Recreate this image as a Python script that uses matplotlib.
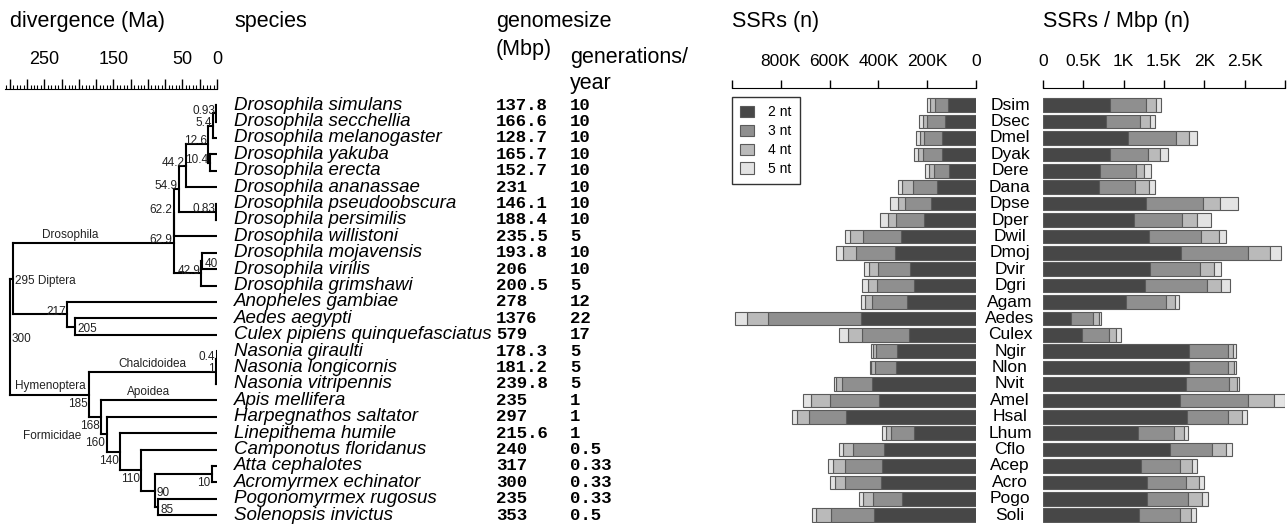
import numpy as np
import matplotlib.pyplot as plt
from matplotlib.patches import Patch
from matplotlib.ticker import FixedLocator, MultipleLocator
from matplotlib.transforms import blended_transform_factory

plt.rcParams['font.family'] = ['Liberation Sans', 'DejaVu Sans']

# --- data ---
species = ["Drosophila simulans", "Drosophila secchellia", "Drosophila melanogaster",
           "Drosophila yakuba", "Drosophila erecta", "Drosophila ananassae",
           "Drosophila pseudoobscura", "Drosophila persimilis", "Drosophila willistoni",
           "Drosophila mojavensis", "Drosophila virilis", "Drosophila grimshawi",
           "Anopheles gambiae", "Aedes aegypti", "Culex pipiens quinquefasciatus",
           "Nasonia giraulti", "Nasonia longicornis", "Nasonia vitripennis",
           "Apis mellifera", "Harpegnathos saltator", "Linepithema humile",
           "Camponotus floridanus", "Atta cephalotes", "Acromyrmex echinator",
           "Pogonomyrmex rugosus", "Solenopsis invictus"]
codes = ["Dsim", "Dsec", "Dmel", "Dyak", "Dere", "Dana", "Dpse", "Dper", "Dwil",
         "Dmoj", "Dvir", "Dgri", "Agam", "Aedes", "Culex", "Ngir", "Nlon", "Nvit",
         "Amel", "Hsal", "Lhum", "Cflo", "Acep", "Acro", "Pogo", "Soli"]
genome_mbp = ["137.8", "166.6", "128.7", "165.7", "152.7", "231", "146.1", "188.4",
              "235.5", "193.8", "206", "200.5", "278", "1376", "579", "178.3",
              "181.2", "239.8", "235", "297", "215.6", "240", "317", "300", "235", "353"]
generations = ["10", "10", "10", "10", "10", "10", "10", "10", "5", "10", "10", "5",
               "12", "22", "17", "5", "5", "5", "1", "1", "1", "0.5", "0.33", "0.33",
               "0.33", "0.5"]

# SSR counts (thousands) per motif length
ssr_2nt = [116, 128, 139, 139, 109, 161, 186, 215, 309, 333, 272, 256, 283, 470, 276,
           323, 329, 426, 397, 534, 256, 377, 385, 391, 302, 419]
ssr_3nt = [54, 73, 76, 79, 65, 98, 103, 112, 154, 159, 129, 150, 142, 381, 191,
           86, 86, 125, 201, 150, 91, 127, 150, 144, 120, 176]
ssr_4nt = [20, 15, 16, 20, 19, 44, 30, 34, 54, 54, 37, 37, 31, 88, 57,
           14, 14, 24, 79, 49, 20, 41, 53, 44, 41, 59]
ssr_5nt = [11, 18, 16, 18, 14, 18, 34, 34, 18, 29, 19, 26, 14, 48, 38,
           7, 7, 7, 30, 23, 18, 18, 18, 20, 16, 18]

# SSRs per Mbp per motif length
mbp_2nt = [826, 785, 1053, 834, 710, 694, 1280, 1123, 1309, 1714, 1322, 1264, 1024,
           343, 487, 1805, 1805, 1768, 1693, 1788, 1181, 1569, 1218, 1293, 1289, 1185]
mbp_3nt = [454, 421, 599, 471, 438, 442, 702, 595, 644, 826, 620, 772, 504,
           277, 326, 487, 487, 537, 851, 508, 438, 529, 475, 483, 512, 508]
mbp_4nt = [116, 116, 157, 140, 99, 173, 207, 190, 223, 277, 178, 173, 112,
           70, 87, 62, 74, 99, 314, 165, 128, 173, 153, 157, 165, 145]
mbp_5nt = [70, 62, 99, 103, 95, 74, 227, 178, 95, 136, 91, 112, 45,
           33, 70, 33, 29, 25, 136, 66, 50, 66, 62, 66, 74, 62]

motifs = ["2 nt", "3 nt", "4 nt", "5 nt"]

# tree: node -> (label, divergence as drawn (Ma), children)
tree = {
    'root': ("300", 300, ['dipt', 'hymn']),
    'dipt': ("295", 295, ['dros', 'culi']),
    'dros': ("62.9", 62.9, ['soph', 'dsg']),
    'soph': ("62.2", 62.2, ['n549', 'Dwil']),
    'n549': ("54.9", 54.9, ['n442', 'obsc']),
    'n442': ("44.2", 44.2, ['n126', 'Dana']),
    'n126': ("12.6", 12.6, ['n54', 'n104']),
    'n54': ("5.4", 5.4, ['n093', 'Dmel']),
    'n093': ("0.93", 0.93, ['Dsim', 'Dsec']),
    'n104': ("10.4", 10.4, ['Dyak', 'Dere']),
    'obsc': ("0.83", 0.83, ['Dpse', 'Dper']),
    'dsg': ("42.9", 22.5, ['n40', 'Dgri']),
    'n40': ("40", 21, ['Dmoj', 'Dvir']),
    'culi': ("217", 217, ['Agam', 'n205']),
    'n205': ("205", 205, ['Aedes', 'Culex']),
    'hymn': ("185", 185, ['naso', 'n168']),
    'naso': ("1", 1, ['n04', 'Nvit']),
    'n04': ("0.4", 0.4, ['Ngir', 'Nlon']),
    'n168': ("168", 168, ['Amel', 'form']),
    'form': ("160", 160, ['Hsal', 'n140']),
    'n140': ("140", 140, ['Lhum', 'n110']),
    'n110': ("110", 110, ['Cflo', 'n90']),
    'n90': ("90", 90, ['n10', 'n85']),
    'n10': ("10", 7, ['Acep', 'Acro']),
    'n85': ("85", 85, ['Pogo', 'Soli']),
}

W, H = 1287, 527
ROW_TOP, ROW_H = 97, 16.4
N = len(codes)


def px_rect(x0, y0, x1, y1):
    return [x0 / W, 1 - y1 / H, (x1 - x0) / W, (y1 - y0) / H]


fig = plt.figure(figsize=(W / 100, H / 100), dpi=100)
y_bottom = ROW_TOP + N * ROW_H

# --- tree ---
ax_t = fig.add_axes(px_rect(5, ROW_TOP, 217, y_bottom))
ax_t.set_xlim(307, 0)
ax_t.set_ylim(N - 0.5, -0.5)
row_of = {c: i for i, c in enumerate(codes)}
node_pos = {}


def age_of(name):
    return tree[name][1] if name in tree else 0


def draw_node(name):
    if name in row_of:
        return row_of[name]
    label, age, kids = tree[name]
    ys = [draw_node(k) for k in kids]
    y = (min(ys) + max(ys)) / 2
    ax_t.plot([age, age], [min(ys), max(ys)], color='black', lw=1.5, solid_capstyle='projecting')
    for k, yk in zip(kids, ys):
        ax_t.plot([age, age_of(k)], [yk, yk], color='black', lw=1.5, solid_capstyle='projecting')
    node_pos[name] = (age, y)
    return y


draw_node('root')

right_side = {'n40', 'n205', 'root', 'dipt', 'n90', 'n85'}
below_side = {'hymn', 'n168', 'form', 'n140', 'n110', 'n10'}
for name, (age, y) in node_pos.items():
    label = tree[name][0]
    if name == 'dipt':
        label = label + " Diptera"
    if name in right_side:
        ax_t.annotate(label, (age, y), xytext=(1.5, -2), textcoords='offset points',
                      ha='left', va='center', fontsize=8.5, color='#222')
    elif name in below_side:
        ax_t.annotate(label, (age, y), xytext=(-1, -6.5), textcoords='offset points',
                      ha='right', va='center', fontsize=8.5, color='#222')
    else:
        ax_t.annotate(label, (age, y), xytext=(-1, 2), textcoords='offset points',
                      ha='right', va='center', fontsize=8.5, color='#222')

# clade names above their branches
for text, node, age in [("Drosophila", 'dros', 213), ("Hymenoptera", 'hymn', 242),
                        ("Chalcidoidea", 'naso', 94), ("Apoidea", 'Amel', 99)]:
    y = node_pos[node][1] if node in node_pos else row_of[node]
    ax_t.annotate(text, (age, y), xytext=(0, 1.5), textcoords='offset points',
                  ha='center', va='bottom', fontsize=8.5, color='#222')
ax_t.annotate("Formicidae", (196, node_pos['form'][1]), xytext=(0, -1.5),
              textcoords='offset points', ha='right', va='center', fontsize=8.5, color='#222')

for s in ['left', 'right', 'bottom']:
    ax_t.spines[s].set_visible(False)
ax_t.spines['top'].set_position(('outward', 6))
ax_t.xaxis.tick_top()
ax_t.xaxis.set_major_locator(FixedLocator(np.arange(0, 301, 25)))
ax_t.xaxis.set_major_formatter(lambda v, p: str(int(v)) if v in (0, 50, 150, 250) else "")
ax_t.xaxis.set_minor_locator(MultipleLocator(5))
ax_t.tick_params(axis='x', which='major', direction='out', length=7, width=1, pad=8, labelsize=13)
ax_t.tick_params(axis='x', which='minor', direction='out', length=3, width=0.8)
ax_t.set_yticks([])

# --- text columns ---
trans = blended_transform_factory(fig.transFigure, ax_t.transData)
for i in range(N):
    fig.text(234 / W, i, species[i], transform=trans, style='italic', fontsize=13.5,
             ha='left', va='center')
    fig.text(496 / W, i, genome_mbp[i], transform=trans, family='Liberation Mono',
             weight='bold', fontsize=12.5, ha='left', va='center')
    fig.text(570 / W, i, generations[i], transform=trans, family='Liberation Mono',
             weight='bold', fontsize=12.5, ha='left', va='center')
    fig.text(1010 / W, i, codes[i], transform=trans, fontsize=12.5, ha='center', va='center')

for txt, x, y in [("divergence (Ma)", 10, 22), ("species", 234, 22), ("genomesize", 496, 22),
                  ("(Mbp)", 496, 50), ("generations/", 570, 58), ("year", 570, 83),
                  ("SSRs (n)", 732, 22), ("SSRs / Mbp (n)", 1043, 22)]:
    fig.text(x / W, 1 - y / H, txt, fontsize=15.5, ha='left', va='center')

# --- stacked bars ---
colors = ['#474747', '#8f8f8f', '#bababa', '#e3e3e3']
rows = np.arange(N)


def stacked(ax, series):
    left = np.zeros(N)
    for vals, col in zip(series, colors):
        vals = np.asarray(vals, dtype=float)
        ax.barh(rows, vals, left=left, height=0.84, color=col, edgecolor='#5a5a5a', lw=0.8)
        left += vals
    ax.set_ylim(N - 0.5, -0.5)
    for s in ['left', 'right', 'bottom']:
        ax.spines[s].set_visible(False)
    ax.spines['top'].set_position(('outward', 6.5))
    ax.xaxis.tick_top()
    ax.tick_params(axis='x', direction='out', length=6, width=1, pad=8, labelsize=12.5)
    ax.set_yticks([])


ax_l = fig.add_axes(px_rect(732, ROW_TOP, 976, y_bottom))
stacked(ax_l, [ssr_2nt, ssr_3nt, ssr_4nt, ssr_5nt])
ax_l.set_xlim(1000, 0)
ax_l.set_xticks(np.arange(0, 1001, 200))
ax_l.set_xticklabels(["0", "200K", "400K", "600K", "800K", ""])
handles = [Patch(facecolor=c, edgecolor='#5a5a5a', lw=0.8) for c in colors]
leg = ax_l.legend(handles, motifs, loc='upper left', bbox_to_anchor=(0, 1), borderaxespad=0,
                  fontsize=10, handlelength=1.0, handleheight=0.9, labelspacing=0.35,
                  handletextpad=1.0, borderpad=0.6, fancybox=False, edgecolor='black')
leg.get_frame().set_linewidth(1)

ax_r = fig.add_axes(px_rect(1043, ROW_TOP, 1285, y_bottom))
stacked(ax_r, [mbp_2nt, mbp_3nt, mbp_4nt, mbp_5nt])
ax_r.set_xlim(0, 3000)
ax_r.set_xticks(np.arange(0, 3001, 500))
ax_r.set_xticklabels(["0", "0.5K", "1K", "1.5K", "2K", "2.5K", ""])

fig.savefig("out.png", dpi=100)
